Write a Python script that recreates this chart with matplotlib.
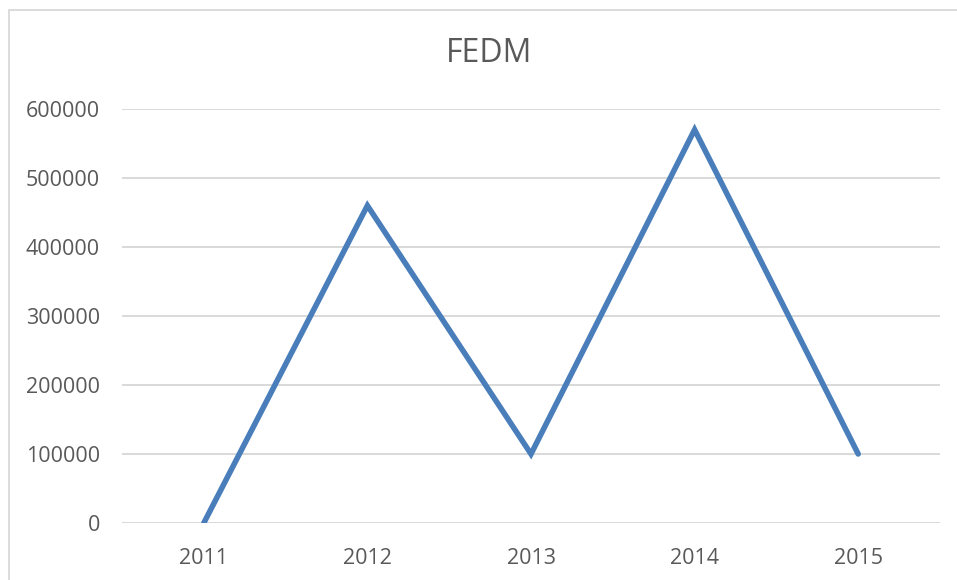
import matplotlib.pyplot as plt
from matplotlib.patches import Rectangle

# Chart data
years = ['2011', '2012', '2013', '2014', '2015']
fedm = [0, 460000, 100000, 570000, 100000]
y_ticks = [0, 100000, 200000, 300000, 400000, 500000, 600000]

text_color = '#595959'
line_color = '#4A7EBB'
grid_color = '#D9D9D9'

plt.rcParams['font.family'] = ['Open Sans', 'DejaVu Sans']

W, H = 957, 580
fig = plt.figure(figsize=(W / 100, H / 100), dpi=100)

# chart area border (right and bottom edges fall outside the image)
fig.patches.append(Rectangle((9 / W, -0.1), 1.2, 1 - 10 / H + 0.1,
                             transform=fig.transFigure, fill=False,
                             edgecolor=grid_color, linewidth=1.3))

ax = fig.add_axes([122 / W, 1 - 523 / H, (940 - 122) / W, (523 - 109) / H])
x = list(range(len(years)))
ax.plot(x, fedm, color=line_color, linewidth=4, solid_capstyle='round',
        solid_joinstyle='miter', zorder=3)

ax.set_xlim(-0.5, len(years) - 0.5)
ax.set_ylim(0, 600000)
ax.set_yticks(y_ticks)
ax.set_yticklabels([str(v) for v in y_ticks])
ax.set_xticks(x)
ax.set_xticklabels(years)

ax.grid(axis='y', color=grid_color, linewidth=1.4)
ax.set_axisbelow(True)
for s in ax.spines.values():
    s.set_visible(False)
ax.tick_params(axis='both', length=0, labelsize=15.5, colors=text_color)
ax.tick_params(axis='y', pad=16)
ax.tick_params(axis='x', pad=18)
ax.axhline(0, color=grid_color, linewidth=1.4, zorder=1)

fig.text(489 / W, 1 - 54 / H, 'FEDM', ha='center', va='center',
         fontsize=23, color=text_color)

fig.savefig('out.png', dpi=100)
